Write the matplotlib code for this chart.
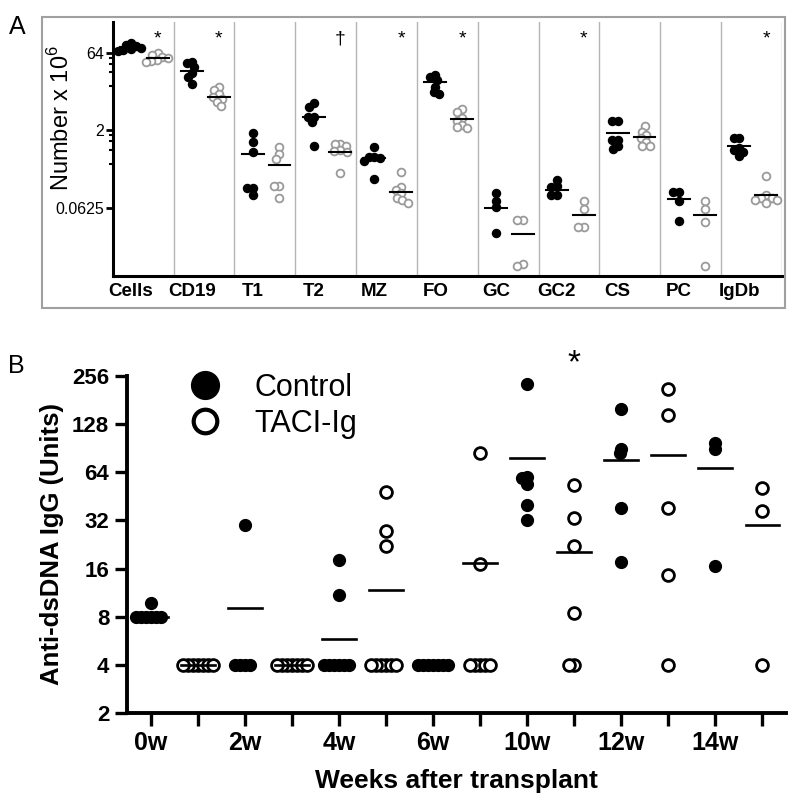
import numpy as np
import matplotlib
matplotlib.use("Agg")
import matplotlib.pyplot as plt
from matplotlib.lines import Line2D
from matplotlib.patches import Rectangle
from matplotlib.ticker import FixedLocator, NullFormatter

plt.rcParams['font.family'] = ['Liberation Sans', 'DejaVu Sans']
plt.rcParams['mathtext.fontset'] = 'custom'
plt.rcParams['mathtext.rm'] = 'Liberation Sans'

# ---- panel A data (cell numbers x 10^6) ----
subsets = ['Cells', 'CD19', 'T1', 'T2', 'MZ', 'FO', 'GC', 'GC2', 'CS', 'PC', 'IgDb']
a_ctrl = [
    [98, 90, 85, 80, 76, 72, 70],
    [43, 40, 34, 26, 22, 16],
    [1.8, 1.2, 0.76, 0.15, 0.15, 0.11],
    [6.7, 5.8, 3.7, 3.6, 2.9, 0.98],
    [0.95, 0.62, 0.6, 0.58, 0.52, 0.23],
    [24, 22, 19, 14, 11, 10],
    [0.12, 0.085, 0.065, 0.021],
    [0.22, 0.17, 0.16, 0.11, 0.11],
    [3.1, 3.1, 1.3, 1.3, 1.0, 0.86],
    [0.13, 0.13, 0.085, 0.035],
    [1.45, 1.4, 0.9, 0.85, 0.75, 0.65],
]
a_taci = [
    [64, 58, 54, 50, 47, 45, 43],
    [14, 12, 10, 9, 8, 7, 6],
    [0.94, 0.69, 0.56, 0.17, 0.17, 0.1],
    [1.1, 1.1, 1.0, 0.85, 0.8, 0.78, 0.3],
    [0.31, 0.16, 0.14, 0.12, 0.1, 0.09, 0.08],
    [5.3, 4.6, 3.5, 3.0, 2.6, 2.3, 2.2],
    [0.037, 0.037, 0.0052, 0.0048],
    [0.085, 0.06, 0.027, 0.027],
    [2.4, 1.9, 1.6, 1.4, 1.2, 1.0, 1.0],
    [0.085, 0.06, 0.034, 0.0048],
    [0.26, 0.11, 0.1, 0.1, 0.09, 0.09, 0.08],
]
a_ctrl_line = [82, 29, 0.69, 3.7, 0.58, 17, 0.0625, 0.14, 1.8, 0.095, 0.98]
a_taci_line = [51, 9, 0.43, 0.75, 0.13, 3.4, 0.02, 0.045, 1.5, 0.045, 0.11]
a_marks = {0: '*', 1: '*', 3: '\u2020', 4: '*', 5: '*', 7: '*', 10: '*'}

# ---- panel B data (anti-dsDNA IgG units) ----
weeks = ['0w', '2w', '4w', '6w', '10w', '12w', '14w']
b_ctrl = [
    [9.7, 8, 8, 8, 8, 8, 8],
    [30, 4, 4, 4, 4],
    [18, 10.9, 4, 4, 4, 4, 4, 4],
    [4, 4, 4, 4, 4, 4, 4],
    [228, 60, 59, 54, 40, 32],
    [159, 90, 84, 38, 17.6],
    [97, 89, 16.6],
]
b_taci = [
    [4, 4, 4, 4, 4, 4, 4],
    [4, 4, 4, 4, 4, 4, 4],
    [48.5, 27.5, 22, 4, 4, 4, 4, 4, 4],
    [85, 17, 4, 4, 4, 4, 4],
    [53, 33, 22, 8.4, 4, 4],
    [213, 145, 38.5, 14.6, 4],
    [51, 36.5, 4],
]
b_ctrl_line = [8, 9.1, 5.8, 4, 78.6, 76, 68]
b_taci_line = [4, 4, 11.7, 17.4, 20.4, 82, 30]
b_marks = {4: '*'}


def swarm(ax, xc, vals, dist):
    """simple beeswarm: x positions (data) so markers sit dist px apart"""
    cx = ax.transData.transform((xc, vals[0]))[0]
    order = sorted(range(len(vals)), key=lambda i: -vals[i])
    placed = []
    out = [xc] * len(vals)
    for i in order:
        py = ax.transData.transform((xc, vals[i]))[1]
        cands = [cx]
        for px, qy in placed:
            dy = abs(py - qy)
            if dy < dist:
                dx = np.sqrt(dist ** 2 - dy ** 2)
                cands += [px - dx, px + dx]
        cands.sort(key=lambda c: (abs(c - cx), c))
        for c in cands:
            if all((c - px) ** 2 + (py - qy) ** 2 >= dist ** 2 - 1e-6 for px, qy in placed):
                break
        placed.append((c, py))
        out[i] = ax.transData.inverted().transform((c, py))[0]
    return out


fig = plt.figure(figsize=(8, 8.05), dpi=100)

# ================= panel A =================
fig.patches.append(Rectangle((0.0525, 0.617), 0.929, 0.3615, transform=fig.transFigure,
                             fill=False, edgecolor='#a0a0a0', linewidth=1.5))
axA = fig.add_axes([0.141, 0.657, 0.8365, 0.316])
axA.set_yscale('log', base=2)
axA.set_xlim(0, 11)
axA.set_ylim(0.003, 256)
for k in range(1, 12):
    axA.axvline(k, color='#b4b4b4', lw=1.0, zorder=0)

for i in range(len(subsets)):
    xs = swarm(axA, i + 0.3, a_ctrl[i], 5.6)
    axA.plot(xs, a_ctrl[i], 'o', ms=5.8, color='black', mec='black', zorder=3)
    xs = swarm(axA, i + 0.74, a_taci[i], 5.8)
    axA.plot(xs, a_taci[i], 'o', ms=5.6, mfc='white', mec='#9a9a9a', mew=1.3, zorder=3)
    axA.plot([i + 0.12, i + 0.48], [a_ctrl_line[i]] * 2, color='black', lw=1.5, zorder=4)
    axA.plot([i + 0.56, i + 0.92], [a_taci_line[i]] * 2, color='black', lw=1.5, zorder=4)
    if i in a_marks:
        axA.text(i + 0.74, 120, a_marks[i], ha='center', va='center', fontsize=14)

axA.set_yticks([0.0625, 2, 64])
axA.set_yticklabels(['0.0625', '2', '64'], fontsize=11.5)
minors = list(np.linspace(2, 64, 6)[1:-1]) + list(np.linspace(0.0625, 2, 6)[1:-1])
axA.yaxis.set_minor_locator(FixedLocator(minors))
axA.yaxis.set_minor_formatter(NullFormatter())
axA.tick_params(axis='y', which='major', length=5, width=2, pad=1)
axA.tick_params(axis='y', which='minor', length=3, width=1.5)
axA.set_xticks([i + 0.3 for i in range(len(subsets))])
axA.set_xticklabels(subsets, fontsize=13.5, fontweight='bold')
axA.tick_params(axis='x', length=0, pad=5)
for s in ['top', 'right']:
    axA.spines[s].set_visible(False)
axA.spines['left'].set_linewidth(2.2)
axA.spines['bottom'].set_linewidth(2.2)
axA.set_ylabel('Number x 10$^6$', fontsize=17)
axA.yaxis.set_label_coords(-0.058, 0.62)
fig.text(0.021, 0.966, 'A', fontsize=18, ha='center', va='center')

# ================= panel B =================
axB = fig.add_axes([0.159, 0.1143, 0.8235, 0.4187])
axB.set_yscale('log', base=2)
axB.set_xlim(-0.5, 13.5)
axB.set_ylim(2, 256)

for j in range(len(weeks)):
    xc = 2 * j
    xs = swarm(axB, xc, b_ctrl[j], 5.0)
    axB.plot(xs, b_ctrl[j], 'o', ms=8.5, color='black', zorder=3)
    xs = swarm(axB, xc + 1, b_taci[j], 5.0)
    axB.plot(xs, b_taci[j], 'o', ms=8.5, mfc='white', mec='black', mew=2.0, zorder=3)
    axB.plot([xc - 0.36, xc + 0.36], [b_ctrl_line[j]] * 2, color='black', lw=1.9, zorder=4)
    axB.plot([xc + 0.64, xc + 1.36], [b_taci_line[j]] * 2, color='black', lw=1.9, zorder=4)
    if j in b_marks:
        axB.text(xc + 1, 307, b_marks[j], ha='center', va='center', fontsize=24)

yt = [2, 4, 8, 16, 32, 64, 128, 256]
axB.set_yticks(yt)
axB.set_yticklabels([str(v) for v in yt], fontsize=16, fontweight='bold')
axB.yaxis.set_minor_locator(FixedLocator([]))
axB.set_xticks(range(14))
axB.set_xticklabels([weeks[k // 2] if k % 2 == 0 else '' for k in range(14)],
                    fontsize=18, fontweight='bold')
axB.tick_params(axis='both', length=9, width=2.4, pad=4)
for s in ['top', 'right']:
    axB.spines[s].set_visible(False)
axB.spines['left'].set_linewidth(2.8)
axB.spines['bottom'].set_linewidth(2.8)
axB.set_ylabel('Anti-dsDNA IgG (Units)', fontsize=18.5, fontweight='bold', labelpad=6)
axB.set_xlabel('Weeks after transplant', fontsize=19, fontweight='bold', labelpad=10)

handles = [Line2D([], [], ls='none', marker='o', ms=20, color='black'),
           Line2D([], [], ls='none', marker='o', ms=17, mfc='white', mec='black', mew=3)]
axB.legend(handles, ['Control', 'TACI-Ig'], loc='upper left',
           bbox_to_anchor=(0.2375, 0.537), bbox_transform=fig.transFigure,
           frameon=False, fontsize=22, handlelength=1.0, handletextpad=1.1,
           labelspacing=0.2, borderpad=0, borderaxespad=0)
fig.text(0.021, 0.545, 'B', fontsize=18, ha='center', va='center')

fig.savefig('out.png', dpi=100)
